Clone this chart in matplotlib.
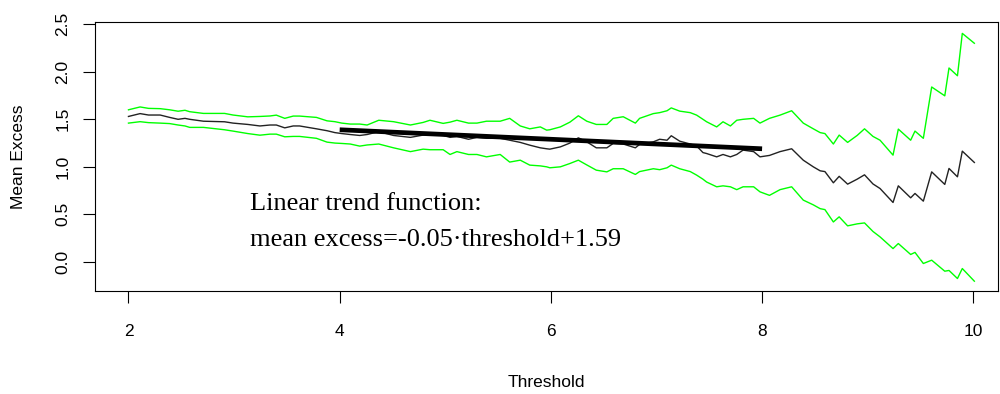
"""
Mean excess plot avec bandes de confiance et tendance linéaire
"""

import numpy as np
import matplotlib
matplotlib.use('Agg')
import matplotlib.pyplot as plt

# ─────────────────────────────────────────────
# DONNÉES
# ─────────────────────────────────────────────
threshold = [2.00, 2.11, 2.19, 2.30, 2.39, 2.47, 2.535, 2.58, 2.71, 2.91,
             2.99, 3.13, 3.245, 3.34, 3.40, 3.48, 3.56, 3.62, 3.78, 3.88,
             3.955, 4.02, 4.10, 4.19, 4.26, 4.37, 4.51, 4.67, 4.79, 4.855,
             4.98, 5.045, 5.11, 5.22, 5.30, 5.39, 5.52, 5.61, 5.71, 5.80,
             5.90, 5.96, 5.99, 6.09, 6.18, 6.26, 6.34, 6.43, 6.53, 6.59,
             6.685, 6.80, 6.84, 6.97, 7.03, 7.10, 7.14, 7.22, 7.32, 7.38,
             7.44, 7.475, 7.57, 7.63, 7.70, 7.76, 7.82, 7.92, 7.98, 8.07,
             8.17, 8.28, 8.39, 8.485, 8.55, 8.595, 8.675, 8.73, 8.81, 8.90,
             8.97, 9.05, 9.117, 9.24, 9.29, 9.407, 9.448, 9.527, 9.606, 9.73,
             9.77, 9.85, 9.896, 10.01]

mean_excess = [1.53, 1.56, 1.545, 1.545, 1.52, 1.50, 1.51, 1.50, 1.48, 1.474,
               1.46, 1.446, 1.43, 1.44, 1.44, 1.41, 1.43, 1.43, 1.40, 1.38,
               1.36, 1.35, 1.34, 1.33, 1.34, 1.37, 1.33, 1.31, 1.334, 1.34,
               1.33, 1.31, 1.32, 1.29, 1.31, 1.30, 1.30, 1.28, 1.257, 1.228,
               1.20, 1.19, 1.186, 1.21, 1.25, 1.305, 1.263, 1.20, 1.20, 1.246,
               1.24, 1.20, 1.236, 1.263, 1.29, 1.28, 1.327, 1.27, 1.24, 1.22,
               1.15, 1.14, 1.105, 1.13, 1.105, 1.13, 1.176, 1.16, 1.105, 1.12,
               1.16, 1.19, 1.07, 1.00, 0.958, 0.95, 0.832, 0.90, 0.818, 0.87,
               0.916, 0.82, 0.772, 0.625, 0.80, 0.674, 0.72, 0.639, 0.947, 0.815,
               0.983, 0.895, 1.165, 1.046]

upper = [1.60, 1.63, 1.615, 1.612, 1.60, 1.585, 1.595, 1.58, 1.562, 1.562,
         1.545, 1.526, 1.53, 1.535, 1.544, 1.51, 1.534, 1.534, 1.52, 1.484,
         1.475, 1.46, 1.45, 1.45, 1.44, 1.49, 1.475, 1.44, 1.467, 1.49,
         1.457, 1.47, 1.49, 1.46, 1.46, 1.48, 1.48, 1.51, 1.43, 1.40,
         1.42, 1.386, 1.39, 1.42, 1.47, 1.537, 1.48, 1.446, 1.446, 1.51,
         1.527, 1.46, 1.51, 1.56, 1.57, 1.59, 1.62, 1.586, 1.57, 1.544,
         1.50, 1.474, 1.42, 1.474, 1.43, 1.49, 1.50, 1.51, 1.46, 1.51,
         1.544, 1.59, 1.46, 1.40, 1.36, 1.35, 1.24, 1.334, 1.257, 1.33,
         1.40, 1.32, 1.28, 1.123, 1.397, 1.28, 1.376, 1.30, 1.84, 1.747,
         2.04, 1.958, 2.404, 2.30]

lower = [1.46, 1.475, 1.465, 1.46, 1.455, 1.44, 1.43, 1.415, 1.415, 1.39,
         1.376, 1.35, 1.333, 1.344, 1.344, 1.316, 1.32, 1.32, 1.30, 1.26,
         1.25, 1.246, 1.24, 1.218, 1.23, 1.24, 1.20, 1.16, 1.186, 1.18,
         1.18, 1.13, 1.16, 1.13, 1.13, 1.105, 1.13, 1.05, 1.07, 1.018,
         1.01, 1.00, 0.99, 1.00, 1.035, 1.07, 1.02, 0.965, 0.947, 0.98,
         0.98, 0.92, 0.95, 0.98, 0.97, 0.99, 1.018, 0.98, 0.95, 0.913,
         0.87, 0.84, 0.79, 0.80, 0.79, 0.76, 0.79, 0.79, 0.737, 0.70,
         0.76, 0.79, 0.65, 0.60, 0.56, 0.55, 0.42, 0.474, 0.379, 0.40,
         0.41, 0.32, 0.263, 0.14, 0.193, 0.078, 0.10, -0.017, 0.018, -0.098,
         -0.09, -0.175, -0.07, -0.203]

# tendance linéaire : mean excess = -0.05 * threshold + 1.59
trend_slope = -0.05
trend_intercept = 1.59
trend_range = [4, 8]

x_ticks = [2, 4, 6, 8, 10]
y_ticks = [0.0, 0.5, 1.0, 1.5, 2.0, 2.5]

# ─────────────────────────────────────────────
# FIGURE
# ─────────────────────────────────────────────
plt.rcParams['font.family'] = ['Liberation Sans', 'DejaVu Sans']

fig = plt.figure(figsize=(10, 3.94), dpi=100)
ax = fig.add_axes([0.095, 0.261, 0.903, 0.683])

ax.plot(threshold, upper, color='#00ff00', lw=1.0)
ax.plot(threshold, lower, color='#00ff00', lw=1.0)
ax.plot(threshold, mean_excess, color='#222222', lw=1.0)

xt = np.array(trend_range, dtype=float)
ax.plot(xt, trend_slope * xt + trend_intercept, color='black', lw=3.4,
        solid_capstyle='butt')

ax.text(3.15, 0.544, 'Linear trend function:', family='Liberation Serif',
        fontsize=19, va='baseline', ha='left')
ax.text(3.15, 0.165, 'mean excess=-0.05\u00b7threshold+1.59',
        family='Liberation Serif', fontsize=19, va='baseline', ha='left')

ax.set_xlim(1.683, 10.234)
ax.set_ylim(-0.308, 2.523)
ax.set_xticks(x_ticks)
ax.set_xticklabels([str(v) for v in x_ticks])
ax.set_yticks(y_ticks)
ax.set_yticklabels([f'{v:.1f}' for v in y_ticks], rotation=90, va='center')

ax.tick_params(direction='out', length=8.6, width=0.8, labelsize=12.5,
               colors='black')
ax.tick_params(axis='x', pad=15)
ax.tick_params(axis='y', pad=9)
for sp in ax.spines.values():
    sp.set_linewidth(0.8)

ax.set_xlabel('Threshold', fontsize=12.5, labelpad=26)
ax.set_ylabel('Mean Excess', fontsize=12.5, labelpad=21)

fig.savefig('out.png', dpi=100)
